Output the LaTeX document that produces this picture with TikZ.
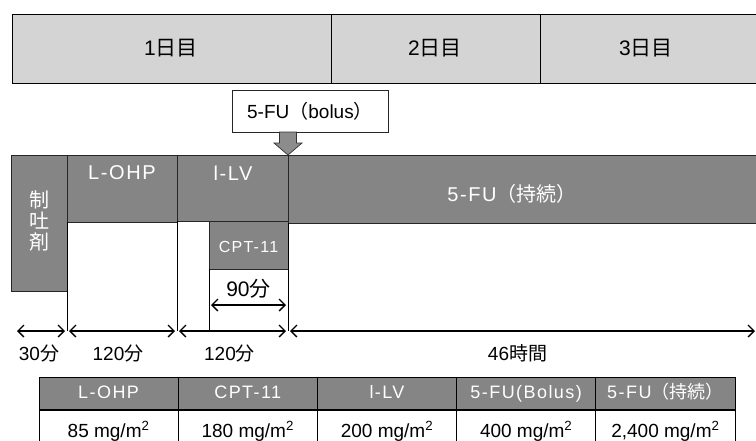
\documentclass[tikz,border=0pt]{standalone}
\usepackage{fontspec}
\setmainfont{Liberation Sans}
\newfontfamily\spaced[LetterSpace=8]{Liberation Sans}
\newfontfamily\jp{Noto Sans CJK JP}
\usepackage{tikz}
\usetikzlibrary{arrows.meta, positioning, calc}

\begin{document}
\begin{tikzpicture}[
    x=1pt, y=-1pt,
    font=\fontsize{19}{21}\selectfont,
    every node/.style={outer sep=0pt},
    day/.style={
        draw=black,
        fill=black!17,
        line width=0.9pt
    },
    drug/.style={
        draw=black!85,
        fill=black!48,
        rectangle,
        inner sep=0pt,
        line width=0.9pt
    },
    druglabel/.style={
        text=white,
        inner sep=1pt,
        font=\spaced\fontsize{20}{22}\selectfont
    },
    bolusbox/.style={
        draw=black!85,
        fill=white,
        rectangle,
        minimum width=156pt,
        minimum height=42pt,
        line width=0.8pt
    },
    blockarrow/.style={
        draw=black!80,
        fill=black!45,
        line width=0.7pt
    },
    guide/.style={
        line width=0.8pt,
        draw=black
    },
    span/.style={
        {Straight Barb[length=6pt,width=12pt]}-{Straight Barb[length=6pt,width=12pt]},
        line width=1.3pt,
        draw=black,
        shorten <=2pt,
        shorten >=2pt
    },
    thead/.style={
        draw=black,
        fill=black!48,
        text=white,
        rectangle,
        minimum width=139.2pt,
        minimum height=33pt,
        text height=13pt,
        text depth=4pt,
        line width=0.8pt,
        font=\spaced\fontsize{18}{20}\selectfont
    },
    tcell/.style={
        draw=black,
        fill=white,
        rectangle,
        minimum width=139.2pt,
        minimum height=44pt,
        text height=14pt,
        line width=0.8pt
    }
]

\useasboundingbox (0,0) rectangle (756,440);

% ============================================================
% Top: days
% ============================================================

\draw[day] (12,14) rectangle (331,83);
\draw[day] (331,14) rectangle (540,83);
\draw[day] (540,14) rectangle (762,83);

\node[font=\fontsize{21}{23}\selectfont] (d1) at (171,48.5) {1{\jp 日目}};
\node[font=\fontsize{21}{23}\selectfont] (d2) at (435,48.5) {2{\jp 日目}};
\node[font=\fontsize{21}{23}\selectfont] (d3) at (646,48.5) {3{\jp 日目}};

% ============================================================
% Drug blocks
% ============================================================

\node[drug, anchor=north west, minimum width=56pt,  minimum height=136pt] (anti) at (11,155)  {};
\node[drug, anchor=north west, minimum width=110pt, minimum height=67pt]  (loph) at (67,155)  {};
\node[drug, anchor=north west, minimum width=111pt, minimum height=66pt]  (ilv)  at (177,155) {};
\node[drug, anchor=north west, minimum width=79pt,  minimum height=48pt]  (cpt)  at (209,221) {};
\node[drug, anchor=north west, minimum width=480pt, minimum height=68pt]  (fu)   at (288,155) {};

\node[druglabel, align=center, font=\jp\fontsize{20}{21}\selectfont] (antitxt) at ($(anti.center)+(0,-2)$) {制\\吐\\剤};
\node[druglabel] (lophtxt) at (122,173) {L-OHP};
\node[druglabel] (ilvtxt)  at (233,173) {l-LV};
\node[druglabel, font=\spaced\fontsize{16}{18}\selectfont] (cpttxt) at ($(cpt.center)+(0,2)$) {CPT-11};
\node[druglabel] (futxt)   at (512,194) {5-FU{\jp（持続）}};

% bolus on top of the junction
\node[bolusbox] (bolus) at (310,111) {5-FU{\jp（}bolus{\jp）}};

\coordinate (ba) at (bolus.south -| fu.north west);
\draw[blockarrow]
    ($(ba)+(-8.5,0)$) -- ($(ba)+(8.5,0)$) -- ($(fu.north west)+(8.5,-12)$)
    -- ($(fu.north west)+(14,-12)$) -- (fu.north west)
    -- ($(fu.north west)+(-14,-12)$) -- ($(fu.north west)+(-8.5,-12)$) -- cycle;

% ============================================================
% Durations
% ============================================================

\coordinate (m0) at (15,331);
\coordinate (m1) at (loph.south west |- m0);
\coordinate (m2) at (ilv.south west |- m0);
\coordinate (m3) at (fu.south west |- m0);
\coordinate (m4) at (757,331);
\coordinate (h90) at (0,305);

\draw[guide] (loph.south west) -- (m1);
\draw[guide] (ilv.south west)  -- (m2);
\draw[guide] (cpt.south west)  -- (cpt.south west |- m0);
\draw[guide] (fu.south west)   -- (m3);

\draw[span] (m0) -- (m1);
\draw[span] (m1) -- (m2);
\draw[span] (m2) -- (m3);
\draw[span] (m3) -- (m4);
\draw[span] (cpt.south west |- h90) -- (fu.south west |- h90);

\node (t30)   at ($(m0)!0.5!(m1)+(-2,22)$) {30{\jp 分}};
\node (t120a) at ($(m1)!0.5!(m2)+(-4,22)$) {120{\jp 分}};
\node (t120b) at ($(m2)!0.5!(m3)+(-3,22)$) {120{\jp 分}};
\node (t46)   at ($(m3)!0.5!(m4)+(-5,22)$) {46{\jp 時間}};
\node[font=\fontsize{21}{23}\selectfont] (t90) at ($(cpt.south west |- h90)!0.5!(fu.south west |- h90)+(0,-16)$) {90{\jp 分}};

% ============================================================
% Dose table
% ============================================================

\foreach \i/\head/\dose in {0/L-OHP/85, 1/CPT-11/180, 2/l-LV/200, 3/5-FU(Bolus)/400, 4/5-FU{\jp（持続）}/{2,400}} {
    \node[thead, anchor=north west] (h\i) at ({39+139.2*\i},377) {\head};
    \node[tcell, below=0pt of h\i] (v\i) {\dose\ mg/m\textsuperscript{2}};
}
\draw[line width=1.6pt] (h0.south west) -- (h4.south east);

\end{tikzpicture}
\end{document}
